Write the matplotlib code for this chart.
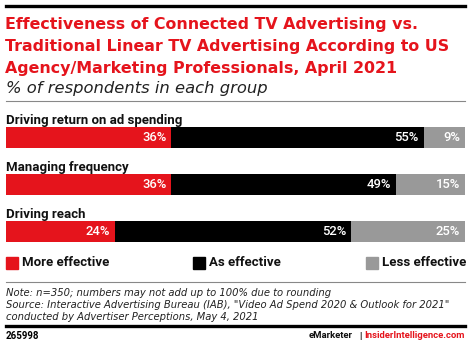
import numpy as np
import matplotlib.pyplot as plt

categories = ["Driving return on ad spending", "Managing frequency", "Driving reach"]
more_effective = [36, 36, 24]
as_effective = [55, 49, 52]
less_effective = [9, 15, 25]
series_names = ["More effective", "As effective", "Less effective"]
colors = ["#e5141c", "#000000", "#999999"]

W, H = 471, 347
fig = plt.figure(figsize=(W / 100, H / 100), dpi=100)
plt.rcParams['font.family'] = ['Roboto', 'DejaVu Sans']
wide = ['DejaVu Sans']


def fy(py):
    return 1 - py / H


def fx(px):
    return px / W


def hline(py, lw, color):
    fig.add_artist(plt.Line2D([fx(6), fx(465)], [fy(py), fy(py)], lw=lw, color=color,
                              transform=fig.transFigure))


hline(6, 2.4, "#000000")
title_lines = ["Effectiveness of Connected TV Advertising vs.",
               "Traditional Linear TV Advertising According to US",
               "Agency/Marketing Professionals, April 2021"]
for i, line in enumerate(title_lines):
    fig.text(fx(5), fy(28.5 + 22 * i), line, color="#e5141c", fontsize=11.4,
             fontweight="bold", family=wide, va="baseline", ha="left")
fig.text(fx(6), fy(93), "% of respondents in each group", fontsize=11.8, style="italic",
         family=wide, va="baseline", ha="left", color="#222222")
hline(101, 0.8, "#888888")

# stacked bars, each row scaled to its own total
data = np.array([more_effective, as_effective, less_effective], dtype=float)
totals = data.sum(axis=0)
shares = data / totals

row_px = 47
top_px = 137.8 - row_px / 2
ax = fig.add_axes([fx(6), fy(top_px + 3 * row_px), fx(459), 3 * row_px / H])
ax.set_xlim(0, 1)
ax.set_ylim(2.5, -0.5)
ax.axis("off")
bar_h = 21 / row_px
y = np.arange(len(categories))
left = np.zeros(len(categories))
for k in range(3):
    ax.barh(y, shares[k], left=left, height=bar_h, color=colors[k], linewidth=0)
    for i in range(len(categories)):
        pad = 5 / 459
        ax.text(left[i] + shares[k][i] - pad, y[i], f"{int(data[k][i])}%", color="white",
                fontsize=9.4, fontweight="medium", ha="right", va="center")
    left += shares[k]
for i, c in enumerate(categories):
    ax.text(0, y[i] - bar_h / 2 - 3 / row_px, c, fontsize=9.5, fontweight="bold",
            ha="left", va="baseline", color="#111111")

# legend
legend_x = [6, 193, 366]
for k, name in enumerate(series_names):
    fig.add_artist(plt.Rectangle((fx(legend_x[k]), fy(268.5)), fx(11.5), 11.5 / H,
                                 color=colors[k], transform=fig.transFigure))
    fig.text(fx(legend_x[k] + 16), fy(263), name, fontsize=9.5, fontweight="bold",
             va="center", ha="left", color="#111111")

hline(281.5, 0.8, "#888888")
note_lines = ["Note: n=350; numbers may not add up to 100% due to rounding",
              "Source: Interactive Advertising Bureau (IAB), \"Video Ad Spend 2020 & Outlook for 2021\"",
              "conducted by Advertiser Perceptions, May 4, 2021"]
for i, line in enumerate(note_lines):
    fig.text(fx(6), fy(295.5 + 12.3 * i), line, fontsize=7.2, style="italic", family=wide,
             va="baseline", ha="left", color="#222222")
hline(326, 2.4, "#000000")

fig.text(fx(6), fy(336), "265998", fontsize=7, fontweight="bold", va="center", ha="left")
fig.text(fx(465), fy(336), "InsiderIntelligence.com", fontsize=6.8, fontweight="bold",
         va="center", ha="right", color="#e5141c")
fig.text(fx(360), fy(336), "|", fontsize=6.8, fontweight="bold",
         va="center", ha="center", color="#111111")
fig.text(fx(353), fy(336), "eMarketer", fontsize=6.8, fontweight="bold",
         va="center", ha="right", color="#111111")

fig.savefig("out.png", dpi=100)
